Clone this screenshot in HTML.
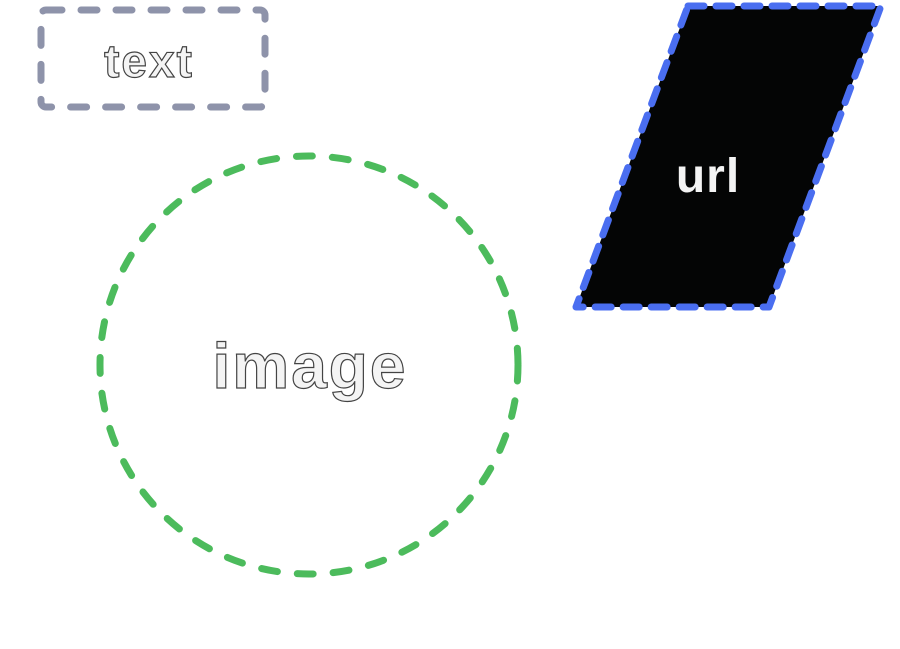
<!DOCTYPE html>
<html><head><meta charset="utf-8"><style>
html,body{margin:0;padding:0;background:#fff;width:900px;height:649px;overflow:hidden}
svg{display:block}
text{font-family:"Liberation Sans",sans-serif;font-weight:bold}
</style></head><body>
<svg width="900" height="649" viewBox="0 0 900 649" xmlns="http://www.w3.org/2000/svg">
<rect x="41" y="10" width="224" height="97" rx="5" fill="none" stroke="#8e93aa" stroke-width="7" stroke-linecap="round" stroke-dasharray="16 19"/>
<text x="149" y="77" font-size="46" text-anchor="middle" fill="#f4f4f4" stroke="#444" stroke-width="1.2" letter-spacing="2">text</text>
<circle cx="309" cy="365" r="209" fill="none" stroke="#4cbb5c" stroke-width="7" stroke-linecap="round" stroke-dasharray="16 20"/>
<text x="310" y="388" font-size="64" text-anchor="middle" fill="#f4f4f4" stroke="#444" stroke-width="1.2" letter-spacing="2">image</text>
<polygon points="688,6 881,6 769,307 576,307" fill="#040505" stroke="#4a6ef0" stroke-width="7" stroke-linejoin="round" stroke-linecap="round" stroke-dasharray="16 12"/>
<text x="708" y="192" font-size="48" text-anchor="middle" fill="#f4f4f4" letter-spacing="1">url</text>
</svg>
</body></html>
